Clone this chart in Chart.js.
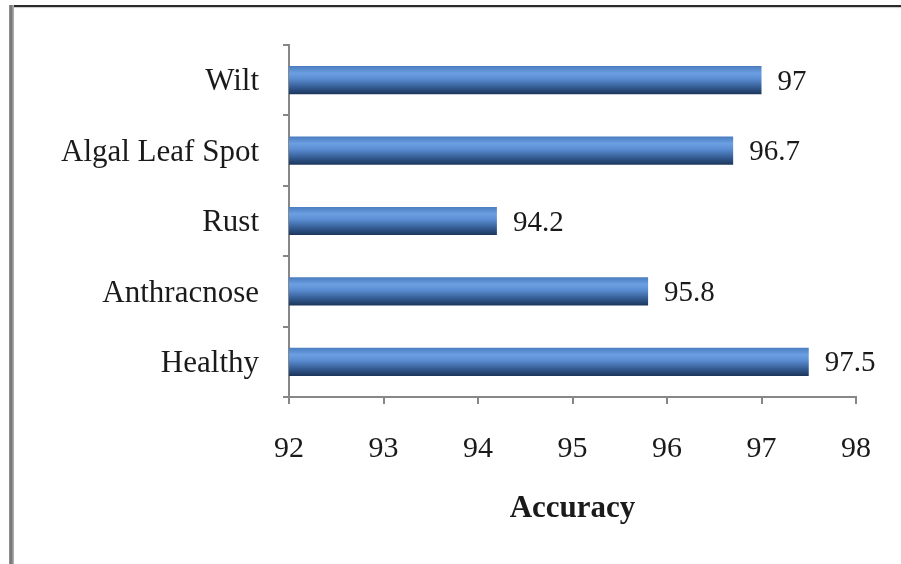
<!DOCTYPE html>
<html>
<head>
<meta charset="utf-8">
<script src="https://cdn.jsdelivr.net/npm/chart.js@4"></script>
<style>
  html, body { margin: 0; padding: 0; background: #fff; }
  #wrap { position: relative; width: 901px; height: 564px; overflow: hidden; }
  #chart { position: absolute; left: 0; top: 0; }
  /* picture frame: dark top rule, grey left edge */
  .frameTop { position: absolute; left: 9px; top: 5px; width: 892px; height: 2px; background: #2a2a2a; box-shadow: 0 1px 1px #c8c8c8; }
  .frameLeft { position: absolute; left: 9px; top: 5px; width: 5px; height: 559px; background: linear-gradient(to right, #9a9a9a, #6e6e6e 40%, #b8b8b8); }
</style>
</head>
<body>
<div id="wrap">
  <canvas id="chart" width="901" height="564"></canvas>
  <div class="frameTop"></div>
  <div class="frameLeft"></div>
</div>
<script>
// ── data ──────────────────────────────────────────────
const categories = ["Wilt", "Algal Leaf Spot", "Rust", "Anthracnose", "Healthy"];
const accuracy = [97, 96.7, 94.2, 95.8, 97.5];
const xTicks = [92, 93, 94, 95, 96, 97, 98];

const SERIF = "'Liberation Serif', 'Times New Roman', serif";
const BAR_FRACTION = 0.4;

// vertical shading across each bar, like the old Office "tube" fill
function barFill(ctx) {
  const chart = ctx.chart;
  const y = chart.scales.y;
  if (!y || ctx.dataIndex === undefined) return "#4f81bd";
  const half = (y.height / categories.length) * BAR_FRACTION / 2;
  const mid = y.getPixelForValue(ctx.dataIndex);
  if (!isFinite(mid) || !isFinite(half) || half <= 0) return "#4f81bd";
  const g = chart.ctx.createLinearGradient(0, mid - half, 0, mid + half);
  g.addColorStop(0, "#4a7cc0");
  g.addColorStop(0.25, "#6c9fe2");
  g.addColorStop(0.45, "#5a8dd2");
  g.addColorStop(0.8, "#2f5488");
  g.addColorStop(1, "#1c355a");
  return g;
}

const valueLabels = {
  id: "valueLabels",
  afterDatasetsDraw(chart) {
    const c = chart.ctx;
    const meta = chart.getDatasetMeta(0);
    c.save();
    c.font = "29px " + SERIF;
    c.fillStyle = "#1a1a1a";
    c.textBaseline = "middle";
    c.textAlign = "left";
    meta.data.forEach((el, i) => {
      c.fillText(String(accuracy[i]), el.x + 16, el.y + 2);
    });
    c.restore();
  }
};

new Chart(document.getElementById("chart"), {
  type: "bar",
  data: {
    labels: categories,
    datasets: [{
      data: accuracy,
      backgroundColor: barFill,
      borderWidth: 0,
      barPercentage: 0.8,
      categoryPercentage: 0.5,
    }],
  },
  options: {
    indexAxis: "y",
    responsive: false,
    animation: false,
    devicePixelRatio: 1,
    layout: { padding: { top: 45, right: 45, bottom: 27, left: 0 } },
    plugins: { legend: { display: false }, tooltip: { enabled: false } },
    scales: {
      x: {
        min: 92,
        max: 98,
        afterBuildTicks: (s) => { s.ticks = xTicks.map((v) => ({ value: v })); },
        afterFit: (s) => { s.height = 140; },
        grid: { drawOnChartArea: false, tickLength: 7, color: "#878787", lineWidth: 2 },
        border: { color: "#878787", width: 2 },
        ticks: { padding: 27, color: "#1a1a1a", font: { family: SERIF, size: 30 } },
        title: {
          display: true,
          text: "Accuracy",
          color: "#1a1a1a",
          font: { family: SERIF, size: 31, weight: "bold" },
          padding: { top: 0, bottom: 9 },
        },
      },
      y: {
        afterFit: (s) => { s.width = 289; },
        grid: { drawOnChartArea: false, tickLength: 6, color: "#878787", lineWidth: 2, offset: true },
        border: { color: "#878787", width: 2 },
        ticks: { padding: 24, labelOffset: 2, color: "#1a1a1a", font: { family: SERIF, size: 31 } },
      },
    },
  },
  plugins: [valueLabels],
});
</script>
</body>
</html>
